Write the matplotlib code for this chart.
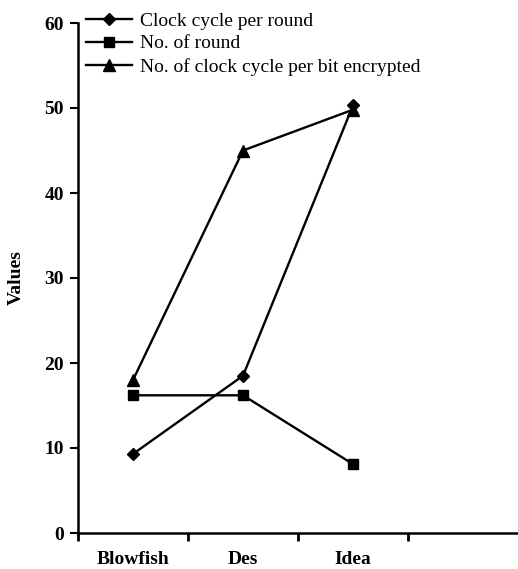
import matplotlib
matplotlib.use("Agg")
import matplotlib.pyplot as plt
import numpy as np

categories = ["Blowfish", "Des", "Idea"]
clock_cycle_per_round = [9.3, 18.5, 50.3]
no_of_round = [16.2, 16.2, 8.1]
clock_cycle_per_bit = [18.0, 45.0, 49.8]
series_labels = ["Clock cycle per round", "No. of round",
                 "No. of clock cycle per bit encrypted"]
yticks = [0, 10, 20, 30, 40, 50, 60]

plt.rcParams['font.family'] = ['Liberation Serif', 'DejaVu Serif']

fig = plt.figure(figsize=(5.18, 5.69), dpi=100)
ax = fig.add_axes([78/518, 36/569, 1 - 78/518, (533-23)/569])

x = np.arange(len(categories)) + 0.5
lw = 1.7
ax.plot(x, clock_cycle_per_round, color='black', lw=lw, marker='D', ms=6,
        label=series_labels[0], clip_on=False)
ax.plot(x, no_of_round, color='black', lw=lw, marker='s', ms=7.5,
        label=series_labels[1], clip_on=False)
ax.plot(x, clock_cycle_per_bit, color='black', lw=lw, marker='^', ms=8,
        label=series_labels[2], clip_on=False)

ax.set_xlim(0, 4)
ax.set_ylim(0, 60)
ax.set_yticks(yticks)
ax.set_yticklabels([str(v) for v in yticks], fontsize=14, fontweight='bold')
ax.set_xticks([0, 1, 2, 3])
ax.set_xticklabels([])
ax.set_xticks(x, minor=True)
ax.set_xticklabels(categories, minor=True, fontsize=14, fontweight='bold')
ax.tick_params(axis='x', which='minor', length=0, pad=13)
ax.tick_params(axis='x', which='major', length=6, width=2, direction='out')
ax.tick_params(axis='y', which='major', length=6, width=1.5, direction='out', pad=4)

for s in ['top', 'right']:
    ax.spines[s].set_visible(False)
for s in ['left', 'bottom']:
    ax.spines[s].set_linewidth(1.8)

ax.set_ylabel("Values", fontsize=14, fontweight='bold', labelpad=14)

leg = ax.legend(loc='upper left', bbox_to_anchor=(86/518, 1 - 12/569),
                bbox_transform=fig.transFigure, frameon=False, fontsize=14,
                handlelength=2.35, handletextpad=0.45, labelspacing=0.27,
                borderpad=0, borderaxespad=0)

fig.savefig("out.png", dpi=100)
